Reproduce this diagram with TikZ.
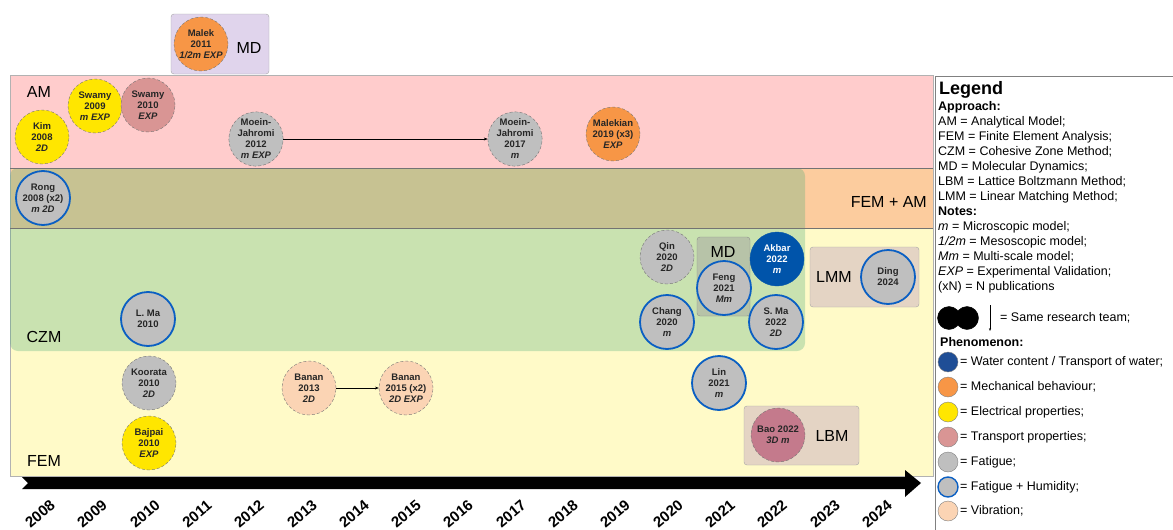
\documentclass[tikz,border=0pt]{standalone}
\usepackage{fontspec}
\setmainfont{Liberation Sans}
\usetikzlibrary{arrows.meta, arrows}
\usepackage{xcolor}

\definecolor{amPink}{RGB}{255,204,204}
\definecolor{mixPeach}{RGB}{252,204,158}
\definecolor{femYellow}{RGB}{255,250,200}
\definecolor{czmGreen}{RGB}{70,170,118}
\definecolor{mdLilac}{RGB}{224,212,236}
\definecolor{mdGrey}{RGB}{183,195,168}
\definecolor{boxTan}{RGB}{228,212,196}
\definecolor{pubGrey}{RGB}{191,191,191}
\definecolor{pubYellow}{RGB}{255,230,0}
\definecolor{pubOrange}{RGB}{247,150,70}
\definecolor{pubRose}{RGB}{217,149,148}
\definecolor{pubPeach}{RGB}{251,212,180}
\definecolor{pubBlue}{RGB}{0,84,170}
\definecolor{waterBlue}{RGB}{31,78,150}
\definecolor{humBlue}{RGB}{10,95,195}
\definecolor{baoMauve}{RGB}{196,122,140}

\tikzset{
  pub/.style={circle, minimum size=54pt, inner sep=0pt, align=center, text=black!85,
    font=\bfseries\fontsize{9.5}{11}\selectfont, draw=black!55, densely dashed, thin},
  pubhum/.style={pub, fill=pubGrey, draw=humBlue, line width=1.8pt, solid},
  bandtag/.style={font=\fontsize{16}{16}\selectfont, inner sep=0pt},
  yeartag/.style={font=\bfseries\fontsize{15}{15}\selectfont, rotate=40, inner sep=0pt},
  legdot/.style={circle, minimum size=20pt, inner sep=0pt, draw=black!50},
  legtext/.style={anchor=west, font=\fontsize{12.5}{15}\selectfont, inner sep=0pt},
}

\begin{document}
\begin{tikzpicture}[x=1pt, y=-1pt]
    \useasboundingbox (0,0) rectangle (1173,530);

    % approach bands
    \filldraw[fill=amPink, draw=black!30] (10,75) rectangle (933,168);
    \filldraw[fill=mixPeach, draw=black!30] (10,168) rectangle (933,228);
    \filldraw[fill=femYellow, draw=black!30] (10,228) rectangle (933,476);
    \fill[czmGreen, opacity=0.29, rounded corners=8pt] (10,168) rectangle (805,351);
    \draw[black!55] (10,168) -- (933,168);
    \draw[black!55] (10,228) -- (933,228);

    % boxes for other methods
    \filldraw[fill=mdLilac, draw=black!35, rounded corners=3pt] (171,14) rectangle (269,74);
    \filldraw[fill=mdGrey, draw=black!45, rounded corners=3pt] (697,237) rectangle (750,316);
    \filldraw[fill=boxTan, draw=black!35, rounded corners=3pt] (810,247) rectangle (919,307);
    \filldraw[fill=boxTan, draw=black!35, rounded corners=3pt] (744,406) rectangle (859,465);

    \node[bandtag] (amtag) at (39,92) {AM};
    \node[bandtag, anchor=east] (mixtag) at (927,202) {FEM + AM};
    \node[bandtag] (czmtag) at (44,337) {CZM};
    \node[bandtag] (femtag) at (44,461) {FEM};
    \node[bandtag] (mdtag) at (249,48) {MD};
    \node[bandtag] (mdtagb) at (723,252) {MD};
    \node[bandtag] (lmmtag) at (834,277) {LMM};
    \node[bandtag] (lbmtag) at (832,436) {LBM};

    % time axis
    \fill[black] (22,477) -- (905,477) -- (905,470) -- (921,483) -- (905,497) -- (905,489)
        -- (22,489) -- (28,483) -- cycle;
    \node[yeartag] (y2008) at (40,514) {2008};
    \node[yeartag] (y2009) at (92,514) {2009};
    \node[yeartag] (y2010) at (145,514) {2010};
    \node[yeartag] (y2011) at (197,514) {2011};
    \node[yeartag] (y2012) at (249,514) {2012};
    \node[yeartag] (y2013) at (302,514) {2013};
    \node[yeartag] (y2014) at (354,514) {2014};
    \node[yeartag] (y2015) at (406,514) {2015};
    \node[yeartag] (y2016) at (458,514) {2016};
    \node[yeartag] (y2017) at (511,514) {2017};
    \node[yeartag] (y2018) at (563,514) {2018};
    \node[yeartag] (y2019) at (615,514) {2019};
    \node[yeartag] (y2020) at (668,514) {2020};
    \node[yeartag] (y2021) at (720,514) {2021};
    \node[yeartag] (y2022) at (772,514) {2022};
    \node[yeartag] (y2023) at (825,514) {2023};
    \node[yeartag] (y2024) at (877,514) {2024};

    % publications
    \node[pub, fill=pubOrange] (malek11) at (201,44) {Malek\\2011\\\textit{1/2m EXP}};
    \node[pub, fill=pubYellow] (kim08) at (42,137) {Kim\\2008\\\textit{2D}};
    \node[pub, fill=pubYellow] (swamy09) at (95,106) {Swamy\\2009\\\textit{m EXP}};
    \node[pub, fill=pubRose] (swamy10) at (148,105) {Swamy\\2010\\\textit{EXP}};
    \node[pub, fill=pubGrey] (moein12) at (256,139) {Moein-\\Jahromi\\2012\\\textit{m EXP}};
    \node[pub, fill=pubGrey] (moein17) at (515,139) {Moein-\\Jahromi\\2017\\\textit{m}};
    \node[pub, fill=pubOrange] (malekian19) at (613,134) {Malekian\\2019 (x3)\\\textit{EXP}};
    \node[pubhum] (rong08) at (43,198) {Rong\\2008 (x2)\\\textit{m 2D}};
    \node[pubhum] (lma10) at (148,319) {L. Ma\\2010};
    \node[pub, fill=pubGrey] (koorata10) at (149,383) {Koorata\\2010\\\textit{2D}};
    \node[pub, fill=pubYellow] (bajpai10) at (149,443) {Bajpai\\2010\\\textit{EXP}};
    \node[pub, fill=pubPeach] (banan13) at (309,388) {Banan\\2013\\\textit{2D}};
    \node[pub, fill=pubPeach] (banan15) at (406,388) {Banan\\2015 (x2)\\\textit{2D EXP}};
    \node[pub, fill=pubGrey] (qin20) at (667,257) {Qin\\2020\\\textit{2D}};
    \node[pubhum] (chang20) at (667,322) {Chang\\2020\\\textit{m}};
    \node[pubhum] (feng21) at (724,288) {Feng\\2021\\\textit{Mm}};
    \node[pub, fill=pubBlue, draw=pubBlue, solid, text=white] (akbar22) at (777,259) {Akbar\\2022\\\textit{m}};
    \node[pubhum] (sma22) at (776,322) {S. Ma\\2022\\\textit{2D}};
    \node[pubhum] (lin21) at (719,383) {Lin\\2021\\\textit{m}};
    \node[pub, fill=baoMauve] (bao22) at (778,435) {Bao 2022\\\textit{3D m}};
    \node[pubhum] (ding24) at (888,277) {Ding\\2024};

    \path [-{Stealth[scale=0.8]}] (moein12) edge (moein17);
    \path [-{Stealth[scale=0.8]}] (banan13) edge (banan15);

    % legend
    \draw[black!50] (935,76) rectangle (1180,540);
    \node[anchor=west, font=\bfseries\fontsize{18}{18}\selectfont, inner sep=0pt] (legtitle) at (939,90) {Legend};
    \node[anchor=north west, align=left, font=\fontsize{12.5}{15}\selectfont, inner sep=0pt] (legnotes) at (938,101)
        {\textbf{Approach:}\\
         AM = Analytical Model;\\
         FEM = Finite Element Analysis;\\
         CZM = Cohesive Zone Method;\\
         MD = Molecular Dynamics;\\
         LBM = Lattice Boltzmann Method;\\
         LMM = Linear Matching Method;\\
         \textbf{Notes:}\\
         \textit{m} = Microscopic model;\\
         \textit{1/2m} = Mesoscopic model;\\
         \textit{Mm} = Multi-scale model;\\
         \textit{EXP} = Experimental Validation;\\
         (xN) = N publications};

    \node[legdot, fill=black, draw=black, minimum size=23pt] (teama) at (949,318) {};
    \node[legdot, fill=black, draw=black, minimum size=23pt] (teamb) at (967,318) {};
    \coordinate (teamtop) at (990,305);
    \coordinate (teambot) at (990,331);
    \path [-{Stealth[scale=0.6]}] (teamtop) edge (teambot);
    \node[legtext] (teamtext) at (1000,318) {= Same research team;};

    \node[legtext, font=\bfseries\fontsize{12.5}{15}\selectfont] (phenom) at (940,342) {Phenomenon:};
    \node[legdot, fill=waterBlue] (lwater) at (948,362) {};
    \node[legtext] (twater) at (960,362) {= Water content / Transport of water;};
    \node[legdot, fill=pubOrange] (lmech) at (948,387) {};
    \node[legtext] (tmech) at (960,387) {= Mechanical behaviour;};
    \node[legdot, fill=pubYellow] (lelec) at (948,412) {};
    \node[legtext] (telec) at (960,412) {= Electrical properties;};
    \node[legdot, fill=pubRose] (ltrans) at (948,437) {};
    \node[legtext] (ttrans) at (960,437) {= Transport properties;};
    \node[legdot, fill=pubGrey] (lfat) at (948,462) {};
    \node[legtext] (tfat) at (960,462) {= Fatigue;};
    \node[legdot, fill=pubGrey, draw=humBlue, line width=1.4pt] (lhum) at (948,487) {};
    \node[legtext] (thum) at (960,487) {= Fatigue + Humidity;};
    \node[legdot, fill=pubPeach] (lvib) at (948,511) {};
    \node[legtext] (tvib) at (960,511) {= Vibration;};
\end{tikzpicture}
\end{document}
